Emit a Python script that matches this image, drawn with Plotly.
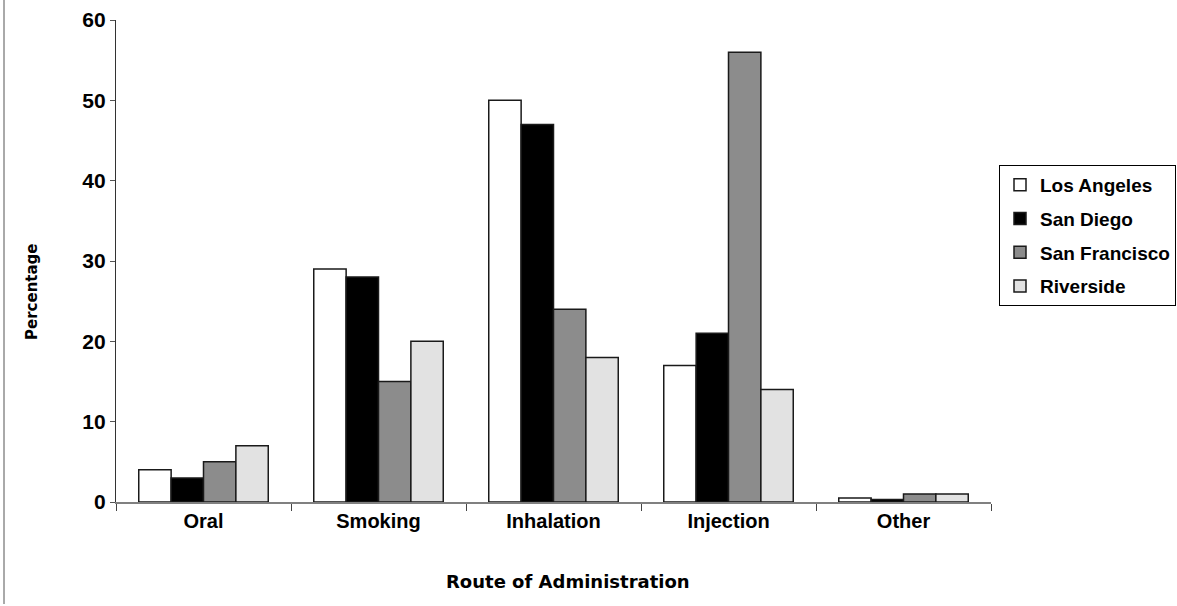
import plotly.graph_objects as go

# Route of administration categories and the share (%) reported by each county
routes = ["Oral", "Smoking", "Inhalation", "Injection", "Other"]
los_angeles = [4, 29, 50, 17, 0.5]
san_diego = [3, 28, 47, 21, 0.3]
san_francisco = [5, 15, 24, 56, 1]
riverside = [7, 20, 18, 14, 1]

series = [
    ("Los Angeles", los_angeles, "#ffffff"),
    ("San Diego", san_diego, "#000000"),
    ("San Francisco", san_francisco, "#8c8c8c"),
    ("Riverside", riverside, "#e2e2e2"),
]

TICK_FONT = dict(family="Liberation Sans, Arial, sans-serif", size=19, color="#000000")
TITLE_FONT = dict(family="DejaVu Sans, sans-serif", size=15, color="#000000")

fig = go.Figure()
for name, values, color in series:
    fig.add_trace(go.Bar(
        x=routes,
        y=values,
        name=name,
        legendgroup=name,
        marker=dict(color=color, line=dict(color="#1a1a1a", width=1.5)),
    ))

fig.update_layout(
    width=1177,
    height=606,
    margin=dict(l=116, r=186, t=20, b=104, autoexpand=False),
    paper_bgcolor="#ffffff",
    plot_bgcolor="#ffffff",
    barmode="group",
    bargap=0.26,
    bargroupgap=0,
    showlegend=True,
    legend=dict(
        x=(999 - 116) / 875,
        y=(502 - 165) / 482,
        xanchor="left",
        yanchor="top",
        bordercolor="#000000",
        borderwidth=1,
        bgcolor="#ffffff",
        traceorder="grouped",
        tracegroupgap=6,
        font=dict(family="Liberation Sans, Arial, sans-serif", size=19, color="#000000", weight="bold"),
    ),
    xaxis=dict(
        range=[-0.5, 4.5],
        showline=True,
        linecolor="#808080",
        linewidth=1.5,
        ticks="outside",
        tickson="boundaries",
        ticklen=7,
        tickcolor="#444444",
        tickwidth=1,
        showgrid=False,
        zeroline=False,
        tickfont=dict(TICK_FONT, size=20, weight="bold"),
    ),
    yaxis=dict(
        range=[0, 60],
        dtick=10,
        showline=True,
        linecolor="#333333",
        linewidth=1.2,
        ticks="outside",
        ticklen=5,
        tickcolor="#555555",
        showgrid=False,
        zeroline=False,
        tickfont=dict(TICK_FONT, size=21, weight="bold"),
    ),
    annotations=[
        dict(
            text="<b>Route of Administration</b>",
            xref="paper", yref="paper",
            x=(568 - 116) / 875, y=-(581 - 502) / 482,
            xanchor="center", yanchor="middle",
            showarrow=False,
            font=dict(TITLE_FONT, size=18),
        ),
        dict(
            text="<b>Percentage</b>",
            xref="paper", yref="paper",
            x=-(116 - 32) / 875, y=(502 - 292) / 482,
            xanchor="center", yanchor="middle",
            textangle=-90,
            showarrow=False,
            font=TITLE_FONT,
        ),
    ],
    shapes=[
        # left border of the chart frame
        dict(type="line", xref="paper", yref="paper",
             x0=-(116 - 4) / 875, x1=-(116 - 4) / 875,
             y0=(502 - 0) / 482, y1=(502 - 604) / 482,
             line=dict(color="#555555", width=1)),
    ],
)

fig.write_html("out.html")
